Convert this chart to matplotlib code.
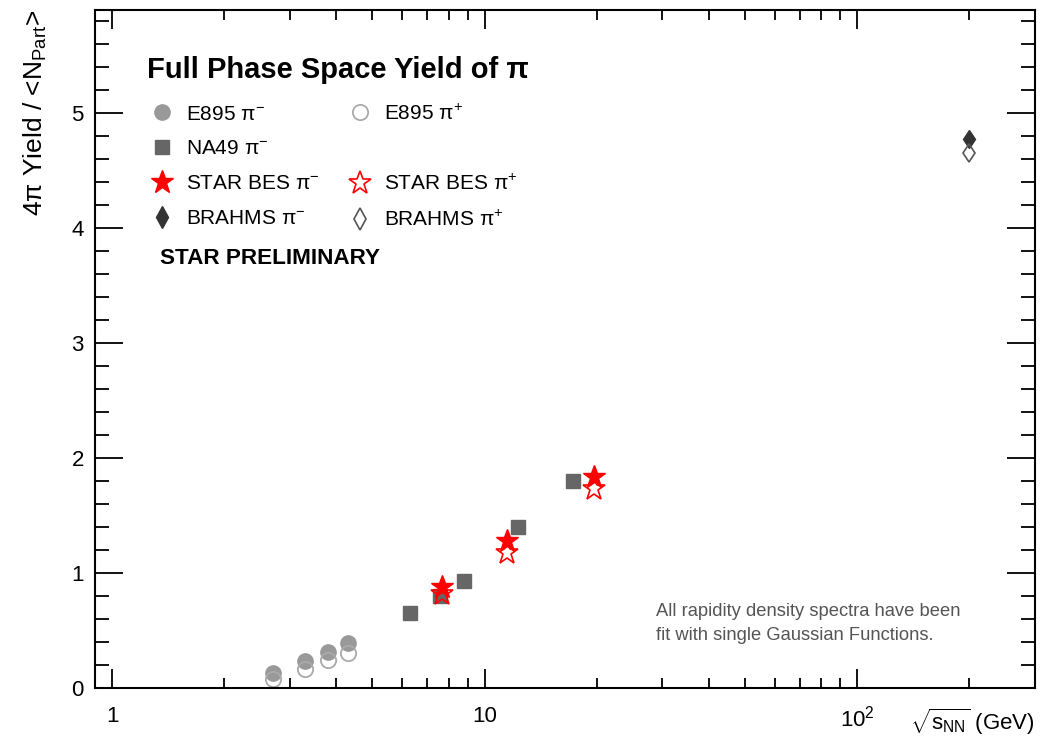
import numpy as np
import matplotlib
matplotlib.use('Agg')
import matplotlib.pyplot as plt
from matplotlib.lines import Line2D
from matplotlib.ticker import LogLocator, MultipleLocator, NullFormatter

plt.rcParams['font.family'] = ['Liberation Sans', 'DejaVu Sans']
plt.rcParams['mathtext.fontset'] = 'custom'
plt.rcParams['mathtext.rm'] = 'Liberation Sans'
plt.rcParams['mathtext.it'] = 'Liberation Sans:italic'
plt.rcParams['mathtext.sf'] = 'Liberation Sans'

# data: sqrt(s_NN) in GeV, 4pi yield / <N_part>
e895_x = [2.7, 3.3, 3.8, 4.3]
e895_neg = [0.13, 0.23, 0.31, 0.39]
e895_pos = [0.07, 0.165, 0.235, 0.30]

na49_x = [6.3, 7.6, 8.8, 12.3, 17.3]
na49_neg = [0.65, 0.80, 0.93, 1.40, 1.80]

star_x = [7.7, 11.5, 19.6]
star_neg = [0.87, 1.27, 1.83]
star_pos = [0.81, 1.17, 1.73]

brahms_x = [200.0]
brahms_neg = [4.77]
brahms_pos = [4.65]

W, H = 1046, 748
fig = plt.figure(figsize=(W / 100, H / 100), dpi=100)
ax = fig.add_axes([95 / W, 1 - 687.5 / H, 940 / W, 678 / H])

ax.plot(e895_x, e895_neg, 'o', color='#999999', ms=11, mec='#999999')
ax.plot(e895_x, e895_pos, 'o', mfc='none', mec='#aaaaaa', ms=11, mew=1.3)
ax.plot(na49_x, na49_neg, 's', color='#666666', ms=10.5)
ax.plot(star_x, star_neg, '*', color='red', ms=17)
ax.plot(star_x, star_pos, '*', mfc='none', mec='red', ms=17, mew=1.2)
ax.plot(brahms_x, brahms_neg, 'd', color='#333333', ms=9.5)
ax.plot(brahms_x, brahms_pos, 'd', mfc='none', mec='#555555', ms=9.5, mew=1.2)

ax.set_xscale('log')
ax.set_xlim(0.90, 300)
ax.set_ylim(0, 5.896)
ax.set_xticks([1, 10, 100], labels=['1', '10', '$10^{2}$'])
ax.xaxis.set_minor_locator(LogLocator(base=10, subs=np.arange(2, 10)))
ax.xaxis.set_minor_formatter(NullFormatter())
ax.yaxis.set_major_locator(MultipleLocator(1))
ax.yaxis.set_minor_locator(MultipleLocator(0.2))

for s in ax.spines.values():
    s.set_linewidth(1.5)
ax.tick_params(axis='both', which='both', direction='in', top=True, right=True,
               width=1.3, labelsize=16, colors='black')
ax.tick_params(axis='x', which='major', length=14, pad=13)
ax.tick_params(axis='x', which='minor', length=7)
ax.tick_params(axis='y', which='major', length=20, pad=8)
ax.tick_params(axis='y', which='minor', length=10)

fig.text(35 / W, 1 - 10 / H, '4π Yield / <N$_{\\rm Part}$>', rotation=90,
         ha='center', va='top', fontsize=19)
fig.text(1035 / W, 1 - 722 / H, r'$\sqrt{\rm s_{NN}}$ (GeV)', ha='right', va='center',
         fontsize=16)

fig.text(147 / W, 1 - 70 / H, 'Full Phase Space Yield of π', fontsize=21,
         fontweight='bold', ha='left', va='center')
fig.text(160 / W, 1 - 258 / H, 'STAR PRELIMINARY', fontsize=16.2, fontweight='bold',
         ha='left', va='center')
fig.text(656 / W, 1 - 612 / H, 'All rapidity density spectra have been', fontsize=13.2,
         color='#555555', ha='left', va='center')
fig.text(656 / W, 1 - 635 / H, 'fit with single Gaussian Functions.', fontsize=13.2,
         color='#555555', ha='left', va='center')

handles = [
    Line2D([], [], ls='none', marker='o', color='#999999', ms=11),
    Line2D([], [], ls='none', marker='s', color='#666666', ms=10.5),
    Line2D([], [], ls='none', marker='*', color='red', ms=17),
    Line2D([], [], ls='none', marker='d', color='#333333', ms=11),
    Line2D([], [], ls='none', marker='o', mfc='none', mec='#aaaaaa', ms=11, mew=1.3),
    Line2D([], [], ls='none', marker=None),
    Line2D([], [], ls='none', marker='*', mfc='none', mec='red', ms=17, mew=1.2),
    Line2D([], [], ls='none', marker='d', mfc='none', mec='#555555', ms=11, mew=1.2),
]
labels = ['E895 π$^{-}$', 'NA49 π$^{-}$', 'STAR BES π$^{-}$', 'BRAHMS π$^{-}$',
          'E895 π$^{+}$', '', 'STAR BES π$^{+}$', 'BRAHMS π$^{+}$']
ax.legend(handles, labels, ncol=2, loc='upper left', bbox_to_anchor=(141 / W, 1 - 93 / H),
          bbox_transform=fig.transFigure, frameon=False, fontsize=15, borderpad=0,
          handlelength=1.0, handletextpad=0.65, columnspacing=1.45, labelspacing=0.76)

fig.savefig('out.png', dpi=100)
